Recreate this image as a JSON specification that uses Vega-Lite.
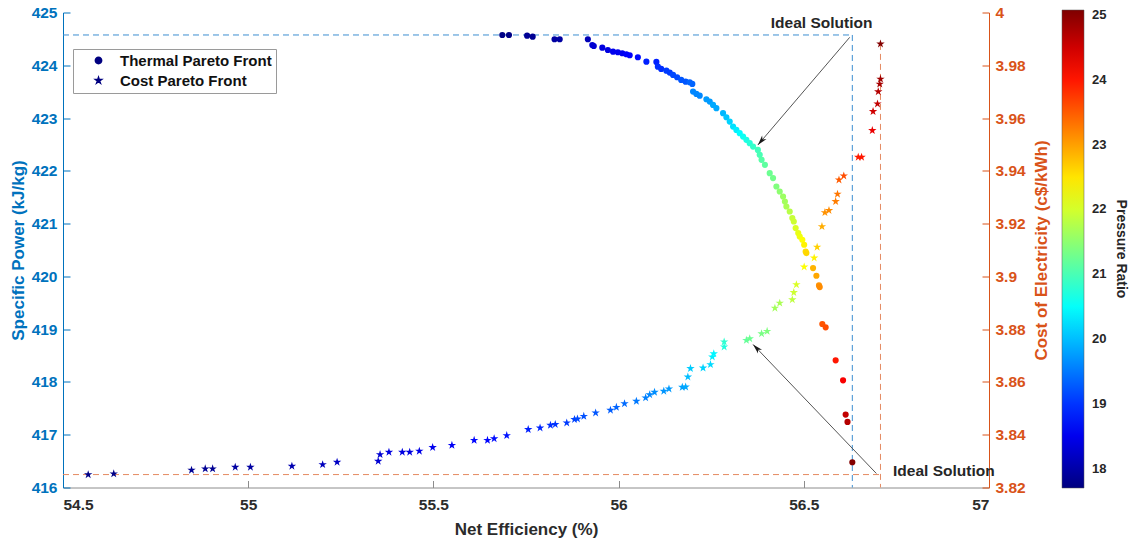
{
  "$schema": "https://vega.github.io/schema/vega-lite/v6.json",
  "width": 926,
  "height": 475,
  "autosize": {"type": "none"},
  "padding": {"left": 63, "top": 12.5, "right": 140, "bottom": 64.5},
  "background": "white",
  "config": {
    "view": {"stroke": null},
    "font": "Liberation Sans",
    "axis": {"grid": false, "labelFont": "Liberation Sans", "titleFont": "Liberation Sans", "labelFontWeight": "bold", "titleFontWeight": "bold", "labelFontSize": 15.5, "titleFontSize": 17, "tickSize": -7, "labelPadding": 13}
  },
  "datasets": {
    "thermal": [
      {"eff": 55.686, "sp": 424.574, "pr": 17.75, "series": "Thermal Pareto Front"},
      {"eff": 55.704, "sp": 424.574, "pr": 17.75, "series": "Thermal Pareto Front"},
      {"eff": 55.753, "sp": 424.561, "pr": 17.85, "series": "Thermal Pareto Front"},
      {"eff": 55.768, "sp": 424.542, "pr": 17.85, "series": "Thermal Pareto Front"},
      {"eff": 55.827, "sp": 424.493, "pr": 17.95, "series": "Thermal Pareto Front"},
      {"eff": 55.841, "sp": 424.493, "pr": 17.95, "series": "Thermal Pareto Front"},
      {"eff": 55.917, "sp": 424.493, "pr": 18.1, "series": "Thermal Pareto Front"},
      {"eff": 55.929, "sp": 424.385, "pr": 18.3, "series": "Thermal Pareto Front"},
      {"eff": 55.933, "sp": 424.366, "pr": 18.3, "series": "Thermal Pareto Front"},
      {"eff": 55.956, "sp": 424.334, "pr": 18.4, "series": "Thermal Pareto Front"},
      {"eff": 55.971, "sp": 424.29, "pr": 18.4, "series": "Thermal Pareto Front"},
      {"eff": 55.985, "sp": 424.258, "pr": 18.5, "series": "Thermal Pareto Front"},
      {"eff": 55.998, "sp": 424.247, "pr": 18.5, "series": "Thermal Pareto Front"},
      {"eff": 56.01, "sp": 424.228, "pr": 18.5, "series": "Thermal Pareto Front"},
      {"eff": 56.021, "sp": 424.209, "pr": 18.6, "series": "Thermal Pareto Front"},
      {"eff": 56.03, "sp": 424.19, "pr": 18.6, "series": "Thermal Pareto Front"},
      {"eff": 56.052, "sp": 424.152, "pr": 18.7, "series": "Thermal Pareto Front"},
      {"eff": 56.075, "sp": 424.069, "pr": 18.85, "series": "Thermal Pareto Front"},
      {"eff": 56.102, "sp": 424.063, "pr": 18.85, "series": "Thermal Pareto Front"},
      {"eff": 56.106, "sp": 423.974, "pr": 18.95, "series": "Thermal Pareto Front"},
      {"eff": 56.115, "sp": 423.931, "pr": 18.95, "series": "Thermal Pareto Front"},
      {"eff": 56.129, "sp": 423.898, "pr": 19.05, "series": "Thermal Pareto Front"},
      {"eff": 56.138, "sp": 423.861, "pr": 19.05, "series": "Thermal Pareto Front"},
      {"eff": 56.147, "sp": 423.817, "pr": 19.15, "series": "Thermal Pareto Front"},
      {"eff": 56.158, "sp": 423.773, "pr": 19.15, "series": "Thermal Pareto Front"},
      {"eff": 56.169, "sp": 423.722, "pr": 19.25, "series": "Thermal Pareto Front"},
      {"eff": 56.181, "sp": 423.69, "pr": 19.25, "series": "Thermal Pareto Front"},
      {"eff": 56.192, "sp": 423.679, "pr": 19.35, "series": "Thermal Pareto Front"},
      {"eff": 56.199, "sp": 423.647, "pr": 19.35, "series": "Thermal Pareto Front"},
      {"eff": 56.201, "sp": 423.501, "pr": 19.6, "series": "Thermal Pareto Front"},
      {"eff": 56.21, "sp": 423.457, "pr": 19.6, "series": "Thermal Pareto Front"},
      {"eff": 56.219, "sp": 423.425, "pr": 19.6, "series": "Thermal Pareto Front"},
      {"eff": 56.237, "sp": 423.357, "pr": 19.75, "series": "Thermal Pareto Front"},
      {"eff": 56.246, "sp": 423.312, "pr": 19.75, "series": "Thermal Pareto Front"},
      {"eff": 56.255, "sp": 423.249, "pr": 19.85, "series": "Thermal Pareto Front"},
      {"eff": 56.264, "sp": 423.187, "pr": 19.85, "series": "Thermal Pareto Front"},
      {"eff": 56.282, "sp": 423.092, "pr": 19.95, "series": "Thermal Pareto Front"},
      {"eff": 56.291, "sp": 423.016, "pr": 20.05, "series": "Thermal Pareto Front"},
      {"eff": 56.3, "sp": 422.933, "pr": 20.15, "series": "Thermal Pareto Front"},
      {"eff": 56.309, "sp": 422.838, "pr": 20.25, "series": "Thermal Pareto Front"},
      {"eff": 56.318, "sp": 422.776, "pr": 20.35, "series": "Thermal Pareto Front"},
      {"eff": 56.327, "sp": 422.713, "pr": 20.45, "series": "Thermal Pareto Front"},
      {"eff": 56.336, "sp": 422.649, "pr": 20.55, "series": "Thermal Pareto Front"},
      {"eff": 56.345, "sp": 422.587, "pr": 20.65, "series": "Thermal Pareto Front"},
      {"eff": 56.354, "sp": 422.524, "pr": 20.75, "series": "Thermal Pareto Front"},
      {"eff": 56.363, "sp": 422.46, "pr": 20.85, "series": "Thermal Pareto Front"},
      {"eff": 56.376, "sp": 422.397, "pr": 20.95, "series": "Thermal Pareto Front"},
      {"eff": 56.381, "sp": 422.303, "pr": 21.0, "series": "Thermal Pareto Front"},
      {"eff": 56.386, "sp": 422.208, "pr": 21.1, "series": "Thermal Pareto Front"},
      {"eff": 56.395, "sp": 422.113, "pr": 21.15, "series": "Thermal Pareto Front"},
      {"eff": 56.408, "sp": 421.956, "pr": 21.25, "series": "Thermal Pareto Front"},
      {"eff": 56.417, "sp": 421.862, "pr": 21.3, "series": "Thermal Pareto Front"},
      {"eff": 56.426, "sp": 421.703, "pr": 21.4, "series": "Thermal Pareto Front"},
      {"eff": 56.435, "sp": 421.608, "pr": 21.5, "series": "Thermal Pareto Front"},
      {"eff": 56.444, "sp": 421.513, "pr": 21.6, "series": "Thermal Pareto Front"},
      {"eff": 56.449, "sp": 421.419, "pr": 21.65, "series": "Thermal Pareto Front"},
      {"eff": 56.453, "sp": 421.324, "pr": 21.7, "series": "Thermal Pareto Front"},
      {"eff": 56.462, "sp": 421.229, "pr": 21.8, "series": "Thermal Pareto Front"},
      {"eff": 56.469, "sp": 421.105, "pr": 21.9, "series": "Thermal Pareto Front"},
      {"eff": 56.473, "sp": 421.04, "pr": 21.95, "series": "Thermal Pareto Front"},
      {"eff": 56.478, "sp": 420.915, "pr": 22.05, "series": "Thermal Pareto Front"},
      {"eff": 56.485, "sp": 420.821, "pr": 22.15, "series": "Thermal Pareto Front"},
      {"eff": 56.489, "sp": 420.756, "pr": 22.2, "series": "Thermal Pareto Front"},
      {"eff": 56.496, "sp": 420.694, "pr": 22.3, "series": "Thermal Pareto Front"},
      {"eff": 56.501, "sp": 420.599, "pr": 22.4, "series": "Thermal Pareto Front"},
      {"eff": 56.505, "sp": 420.472, "pr": 22.55, "series": "Thermal Pareto Front"},
      {"eff": 56.507, "sp": 420.442, "pr": 22.6, "series": "Thermal Pareto Front"},
      {"eff": 56.525, "sp": 420.158, "pr": 22.85, "series": "Thermal Pareto Front"},
      {"eff": 56.534, "sp": 420.012, "pr": 22.95, "series": "Thermal Pareto Front"},
      {"eff": 56.541, "sp": 419.829, "pr": 23.1, "series": "Thermal Pareto Front"},
      {"eff": 56.543, "sp": 419.798, "pr": 23.15, "series": "Thermal Pareto Front"},
      {"eff": 56.55, "sp": 419.098, "pr": 23.55, "series": "Thermal Pareto Front"},
      {"eff": 56.559, "sp": 419.034, "pr": 23.6, "series": "Thermal Pareto Front"},
      {"eff": 56.586, "sp": 418.409, "pr": 24.0, "series": "Thermal Pareto Front"},
      {"eff": 56.606, "sp": 418.03, "pr": 24.2, "series": "Thermal Pareto Front"},
      {"eff": 56.613, "sp": 417.381, "pr": 24.6, "series": "Thermal Pareto Front"},
      {"eff": 56.618, "sp": 417.243, "pr": 24.7, "series": "Thermal Pareto Front"},
      {"eff": 56.631, "sp": 416.478, "pr": 25.05, "series": "Thermal Pareto Front"}
    ],
    "cost": [
      {"eff": 54.568, "coe": 3.8249, "pr": 17.75, "series": "Cost Pareto Front"},
      {"eff": 54.637, "coe": 3.8252, "pr": 17.75, "series": "Cost Pareto Front"},
      {"eff": 54.847, "coe": 3.8266, "pr": 17.85, "series": "Cost Pareto Front"},
      {"eff": 54.884, "coe": 3.8271, "pr": 17.85, "series": "Cost Pareto Front"},
      {"eff": 54.904, "coe": 3.8271, "pr": 17.85, "series": "Cost Pareto Front"},
      {"eff": 54.965, "coe": 3.8277, "pr": 17.95, "series": "Cost Pareto Front"},
      {"eff": 55.006, "coe": 3.8277, "pr": 17.95, "series": "Cost Pareto Front"},
      {"eff": 55.118, "coe": 3.8281, "pr": 18.05, "series": "Cost Pareto Front"},
      {"eff": 55.201, "coe": 3.8287, "pr": 18.15, "series": "Cost Pareto Front"},
      {"eff": 55.24, "coe": 3.8296, "pr": 18.2, "series": "Cost Pareto Front"},
      {"eff": 55.351, "coe": 3.83, "pr": 18.3, "series": "Cost Pareto Front"},
      {"eff": 55.356, "coe": 3.8325, "pr": 18.3, "series": "Cost Pareto Front"},
      {"eff": 55.38, "coe": 3.8334, "pr": 18.4, "series": "Cost Pareto Front"},
      {"eff": 55.416, "coe": 3.8334, "pr": 18.4, "series": "Cost Pareto Front"},
      {"eff": 55.436, "coe": 3.8334, "pr": 18.4, "series": "Cost Pareto Front"},
      {"eff": 55.462, "coe": 3.8338, "pr": 18.45, "series": "Cost Pareto Front"},
      {"eff": 55.498, "coe": 3.8352, "pr": 18.5, "series": "Cost Pareto Front"},
      {"eff": 55.55, "coe": 3.836, "pr": 18.55, "series": "Cost Pareto Front"},
      {"eff": 55.61, "coe": 3.8379, "pr": 18.65, "series": "Cost Pareto Front"},
      {"eff": 55.646, "coe": 3.8379, "pr": 18.65, "series": "Cost Pareto Front"},
      {"eff": 55.664, "coe": 3.8385, "pr": 18.7, "series": "Cost Pareto Front"},
      {"eff": 55.698, "coe": 3.8397, "pr": 18.75, "series": "Cost Pareto Front"},
      {"eff": 55.756, "coe": 3.842, "pr": 18.85, "series": "Cost Pareto Front"},
      {"eff": 55.788, "coe": 3.8426, "pr": 18.9, "series": "Cost Pareto Front"},
      {"eff": 55.816, "coe": 3.8436, "pr": 18.95, "series": "Cost Pareto Front"},
      {"eff": 55.829, "coe": 3.8439, "pr": 19.0, "series": "Cost Pareto Front"},
      {"eff": 55.86, "coe": 3.8445, "pr": 19.05, "series": "Cost Pareto Front"},
      {"eff": 55.881, "coe": 3.8458, "pr": 19.1, "series": "Cost Pareto Front"},
      {"eff": 55.889, "coe": 3.846, "pr": 19.15, "series": "Cost Pareto Front"},
      {"eff": 55.906, "coe": 3.847, "pr": 19.2, "series": "Cost Pareto Front"},
      {"eff": 55.938, "coe": 3.8483, "pr": 19.25, "series": "Cost Pareto Front"},
      {"eff": 55.978, "coe": 3.8493, "pr": 19.3, "series": "Cost Pareto Front"},
      {"eff": 55.994, "coe": 3.8504, "pr": 19.35, "series": "Cost Pareto Front"},
      {"eff": 56.016, "coe": 3.8518, "pr": 19.4, "series": "Cost Pareto Front"},
      {"eff": 56.048, "coe": 3.8527, "pr": 19.5, "series": "Cost Pareto Front"},
      {"eff": 56.073, "coe": 3.854, "pr": 19.55, "series": "Cost Pareto Front"},
      {"eff": 56.084, "coe": 3.8552, "pr": 19.6, "series": "Cost Pareto Front"},
      {"eff": 56.097, "coe": 3.8561, "pr": 19.65, "series": "Cost Pareto Front"},
      {"eff": 56.122, "coe": 3.8565, "pr": 19.7, "series": "Cost Pareto Front"},
      {"eff": 56.136, "coe": 3.8574, "pr": 19.75, "series": "Cost Pareto Front"},
      {"eff": 56.172, "coe": 3.858, "pr": 19.8, "series": "Cost Pareto Front"},
      {"eff": 56.181, "coe": 3.8581, "pr": 19.85, "series": "Cost Pareto Front"},
      {"eff": 56.187, "coe": 3.8619, "pr": 20.0, "series": "Cost Pareto Front"},
      {"eff": 56.194, "coe": 3.8651, "pr": 20.1, "series": "Cost Pareto Front"},
      {"eff": 56.228, "coe": 3.8653, "pr": 20.15, "series": "Cost Pareto Front"},
      {"eff": 56.248, "coe": 3.8666, "pr": 20.2, "series": "Cost Pareto Front"},
      {"eff": 56.253, "coe": 3.8695, "pr": 20.35, "series": "Cost Pareto Front"},
      {"eff": 56.257, "coe": 3.8707, "pr": 20.4, "series": "Cost Pareto Front"},
      {"eff": 56.285, "coe": 3.8733, "pr": 20.7, "series": "Cost Pareto Front"},
      {"eff": 56.285, "coe": 3.8752, "pr": 20.8, "series": "Cost Pareto Front"},
      {"eff": 56.345, "coe": 3.8758, "pr": 21.2, "series": "Cost Pareto Front"},
      {"eff": 56.354, "coe": 3.8764, "pr": 21.25, "series": "Cost Pareto Front"},
      {"eff": 56.386, "coe": 3.8783, "pr": 21.35, "series": "Cost Pareto Front"},
      {"eff": 56.401, "coe": 3.8792, "pr": 21.4, "series": "Cost Pareto Front"},
      {"eff": 56.422, "coe": 3.888, "pr": 21.65, "series": "Cost Pareto Front"},
      {"eff": 56.435, "coe": 3.8899, "pr": 21.7, "series": "Cost Pareto Front"},
      {"eff": 56.469, "coe": 3.8912, "pr": 21.85, "series": "Cost Pareto Front"},
      {"eff": 56.473, "coe": 3.8939, "pr": 21.95, "series": "Cost Pareto Front"},
      {"eff": 56.48, "coe": 3.8969, "pr": 22.05, "series": "Cost Pareto Front"},
      {"eff": 56.501, "coe": 3.9036, "pr": 22.3, "series": "Cost Pareto Front"},
      {"eff": 56.528, "coe": 3.907, "pr": 22.4, "series": "Cost Pareto Front"},
      {"eff": 56.536, "coe": 3.9111, "pr": 22.65, "series": "Cost Pareto Front"},
      {"eff": 56.549, "coe": 3.9189, "pr": 22.9, "series": "Cost Pareto Front"},
      {"eff": 56.557, "coe": 3.9242, "pr": 23.1, "series": "Cost Pareto Front"},
      {"eff": 56.568, "coe": 3.925, "pr": 23.15, "series": "Cost Pareto Front"},
      {"eff": 56.586, "coe": 3.9284, "pr": 23.25, "series": "Cost Pareto Front"},
      {"eff": 56.591, "coe": 3.9312, "pr": 23.3, "series": "Cost Pareto Front"},
      {"eff": 56.595, "coe": 3.9366, "pr": 23.5, "series": "Cost Pareto Front"},
      {"eff": 56.608, "coe": 3.9381, "pr": 23.6, "series": "Cost Pareto Front"},
      {"eff": 56.647, "coe": 3.9452, "pr": 23.95, "series": "Cost Pareto Front"},
      {"eff": 56.656, "coe": 3.9452, "pr": 24.0, "series": "Cost Pareto Front"},
      {"eff": 56.685, "coe": 3.9553, "pr": 24.3, "series": "Cost Pareto Front"},
      {"eff": 56.687, "coe": 3.9625, "pr": 24.5, "series": "Cost Pareto Front"},
      {"eff": 56.699, "coe": 3.9654, "pr": 24.6, "series": "Cost Pareto Front"},
      {"eff": 56.701, "coe": 3.97, "pr": 24.7, "series": "Cost Pareto Front"},
      {"eff": 56.705, "coe": 3.9729, "pr": 24.8, "series": "Cost Pareto Front"},
      {"eff": 56.707, "coe": 3.9748, "pr": 24.85, "series": "Cost Pareto Front"},
      {"eff": 56.707, "coe": 3.9881, "pr": 25.05, "series": "Cost Pareto Front"}
    ],
    "blueDash": [
      {"eff": 54.5, "eff2": 56.631, "sp": 424.574, "sp2": 424.574},
      {"eff": 56.631, "eff2": 56.631, "sp": 424.574, "sp2": 416}
    ],
    "redDash": [
      {"eff": 54.5, "eff2": 56.707, "coe": 3.8249, "coe2": 3.8249},
      {"eff": 56.707, "eff2": 56.707, "coe": 3.9881, "coe2": 3.82}
    ],
    "arrow1": [{"eff": 56.624, "sp": 424.53, "eff2": 56.376, "sp2": 422.49}],
    "head1": [{"eff": 56.376, "sp": 422.49}],
    "arrow2": [{"eff": 56.696, "coe": 3.8253, "eff2": 56.363, "coe2": 3.8742}],
    "head2": [{"eff": 56.363, "coe": 3.8742}],
    "text1": [{"eff": 56.548, "sp": 424.796, "label": "Ideal Solution"}],
    "text2": [{"eff": 56.741, "coe": 3.8262, "label": "Ideal Solution"}]
  },
  "encoding": {
    "x": {
      "field": "eff", "type": "quantitative",
      "scale": {"domain": [54.5, 57], "nice": false, "zero": false},
      "axis": {"title": "Net Efficiency (%)", "values": [54.5, 55, 55.5, 56, 56.5, 57], "format": "~g", "domainColor": "#8c8c8c", "tickColor": "#8c8c8c", "labelColor": "#2b2b2b", "titleColor": "#2b2b2b", "labelPadding": 17, "titlePadding": 8}
    }
  },
  "layer": [
    {
      "encoding": {
        "y": {
          "field": "sp", "type": "quantitative",
          "scale": {"domain": [416, 425], "nice": false, "zero": false},
          "axis": {"orient": "left", "title": "Specific Power (kJ/kg)", "values": [416, 417, 418, 419, 420, 421, 422, 423, 424, 425], "format": "d", "domainColor": "#0072BD", "tickColor": "#0072BD", "labelColor": "#0072BD", "titleColor": "#0072BD", "titlePadding": 4}
        }
      },
      "layer": [
        {"data": {"name": "blueDash"}, "mark": {"type": "rule", "color": "#3d8fd1", "strokeDash": [6, 4], "strokeWidth": 1}, "encoding": {"x2": {"field": "eff2"}, "y2": {"field": "sp2"}}},
        {"data": {"name": "arrow1"}, "mark": {"type": "rule", "color": "#555555", "strokeWidth": 1}, "encoding": {"x2": {"field": "eff2"}, "y2": {"field": "sp2"}}},
        {"data": {"name": "head1"}, "mark": {"type": "point", "shape": "M0,0L0.45,1.6L0,1.15L-0.45,1.6Z", "filled": true, "color": "#1a1a1a", "opacity": 1, "size": 156, "angle": 220}},
        {"data": {"name": "text1"}, "mark": {"type": "text", "font": "Liberation Sans", "fontWeight": "bold", "fontSize": 15.5, "color": "#262626", "align": "center", "baseline": "middle"}, "encoding": {"text": {"field": "label"}}},
        {
          "data": {"name": "thermal"},
          "mark": {"type": "point", "filled": true, "size": 38, "opacity": 1},
          "encoding": {
            "color": {
              "field": "pr", "type": "quantitative",
              "scale": {"domain": [17.7, 18.6225, 19.545, 20.4675, 21.39, 22.3125, 23.235, 24.1575, 25.08], "range": ["#00007F", "#0000FF", "#007FFF", "#00FFFF", "#7FFF7F", "#FFFF00", "#FF7F00", "#FF0000", "#7F0000"], "interpolate": "rgb"},
              "legend": {"orient": "none", "legendX": 999, "legendY": -2.5, "direction": "vertical", "padding": 0, "gradientLength": 478, "gradientThickness": 22, "gradientStrokeColor": "#555555", "gradientStrokeWidth": 0.5, "values": [18, 19, 20, 21, 22, 23, 24, 25], "labelOverlap": false, "labelFont": "Liberation Sans", "labelFontWeight": "bold", "labelFontSize": 13, "labelColor": "#262626", "labelOffset": 8, "title": "Pressure Ratio", "titleOrient": "right", "titleAnchor": "middle", "titleFont": "Liberation Sans", "titleFontWeight": "bold", "titleFontSize": 14, "titleColor": "#262626", "titlePadding": 8, "encode": {"title": {"update": {"angle": {"value": 270}, "baseline": {"value": "bottom"}}}}}
            },
            "shape": {
              "field": "series", "type": "nominal",
              "scale": {"domain": ["Thermal Pareto Front", "Cost Pareto Front"], "range": ["circle", "M0,-1L0.2245,-0.309L0.951,-0.309L0.363,0.118L0.588,0.809L0,0.382L-0.588,0.809L-0.363,0.118L-0.951,-0.309L-0.2245,-0.309Z"]},
              "legend": {"orient": "none", "legendX": 10, "legendY": 36.5, "title": null, "padding": 4, "strokeColor": "#9a9a9a", "fillColor": "white", "symbolOffset": 14, "labelOffset": 14, "rowPadding": 4, "symbolFillColor": "#000080", "symbolStrokeColor": "#000080", "symbolSize": 40, "labelFont": "Liberation Sans", "labelFontWeight": "bold", "labelFontSize": 15, "labelColor": "#111111"}
            }
          }
        }
      ]
    },
    {
      "encoding": {
        "y": {
          "field": "coe", "type": "quantitative",
          "scale": {"domain": [3.82, 4], "nice": false, "zero": false},
          "axis": {"orient": "right", "title": "Cost of Electricity (c$/kWh)", "values": [3.82, 3.84, 3.86, 3.88, 3.9, 3.92, 3.94, 3.96, 3.98, 4], "format": "~g", "domainColor": "#D95319", "tickColor": "#D95319", "labelColor": "#D95319", "titleColor": "#D95319", "titleAngle": 270, "titlePadding": 25}
        }
      },
      "layer": [
        {"data": {"name": "redDash"}, "mark": {"type": "rule", "color": "#e58a62", "strokeDash": [6, 4], "strokeWidth": 1}, "encoding": {"x2": {"field": "eff2"}, "y2": {"field": "coe2"}}},
        {"data": {"name": "arrow2"}, "mark": {"type": "rule", "color": "#555555", "strokeWidth": 1}, "encoding": {"x2": {"field": "eff2"}, "y2": {"field": "coe2"}}},
        {"data": {"name": "head2"}, "mark": {"type": "point", "shape": "M0,0L0.45,1.6L0,1.15L-0.45,1.6Z", "filled": true, "color": "#1a1a1a", "opacity": 1, "size": 156, "angle": 316}},
        {"data": {"name": "text2"}, "mark": {"type": "text", "font": "Liberation Sans", "fontWeight": "bold", "fontSize": 15.5, "color": "#262626", "align": "left", "baseline": "middle"}, "encoding": {"text": {"field": "label"}}},
        {
          "data": {"name": "cost"},
          "mark": {"type": "point", "filled": true, "size": 78, "opacity": 1},
          "encoding": {
            "color": {
              "field": "pr", "type": "quantitative",
              "scale": {"domain": [17.7, 18.6225, 19.545, 20.4675, 21.39, 22.3125, 23.235, 24.1575, 25.08], "range": ["#00007F", "#0000FF", "#007FFF", "#00FFFF", "#7FFF7F", "#FFFF00", "#FF7F00", "#FF0000", "#7F0000"], "interpolate": "rgb"},
              "legend": {"orient": "none", "legendX": 999, "legendY": -2.5, "direction": "vertical", "padding": 0, "gradientLength": 478, "gradientThickness": 22, "gradientStrokeColor": "#555555", "gradientStrokeWidth": 0.5, "values": [18, 19, 20, 21, 22, 23, 24, 25], "labelOverlap": false, "labelFont": "Liberation Sans", "labelFontWeight": "bold", "labelFontSize": 13, "labelColor": "#262626", "labelOffset": 8, "title": "Pressure Ratio", "titleOrient": "right", "titleAnchor": "middle", "titleFont": "Liberation Sans", "titleFontWeight": "bold", "titleFontSize": 14, "titleColor": "#262626", "titlePadding": 8, "encode": {"title": {"update": {"angle": {"value": 270}, "baseline": {"value": "bottom"}}}}}
            },
            "shape": {
              "field": "series", "type": "nominal",
              "scale": {"domain": ["Thermal Pareto Front", "Cost Pareto Front"], "range": ["circle", "M0,-1L0.2245,-0.309L0.951,-0.309L0.363,0.118L0.588,0.809L0,0.382L-0.588,0.809L-0.363,0.118L-0.951,-0.309L-0.2245,-0.309Z"]},
              "legend": {"orient": "none", "legendX": 10, "legendY": 36.5, "title": null, "padding": 4, "strokeColor": "#9a9a9a", "fillColor": "white", "symbolOffset": 14, "labelOffset": 14, "rowPadding": 4, "symbolFillColor": "#000080", "symbolStrokeColor": "#000080", "symbolSize": 40, "labelFont": "Liberation Sans", "labelFontWeight": "bold", "labelFontSize": 15, "labelColor": "#111111"}
            }
          }
        }
      ]
    }
  ],
  "resolve": {"scale": {"y": "independent"}}
}
